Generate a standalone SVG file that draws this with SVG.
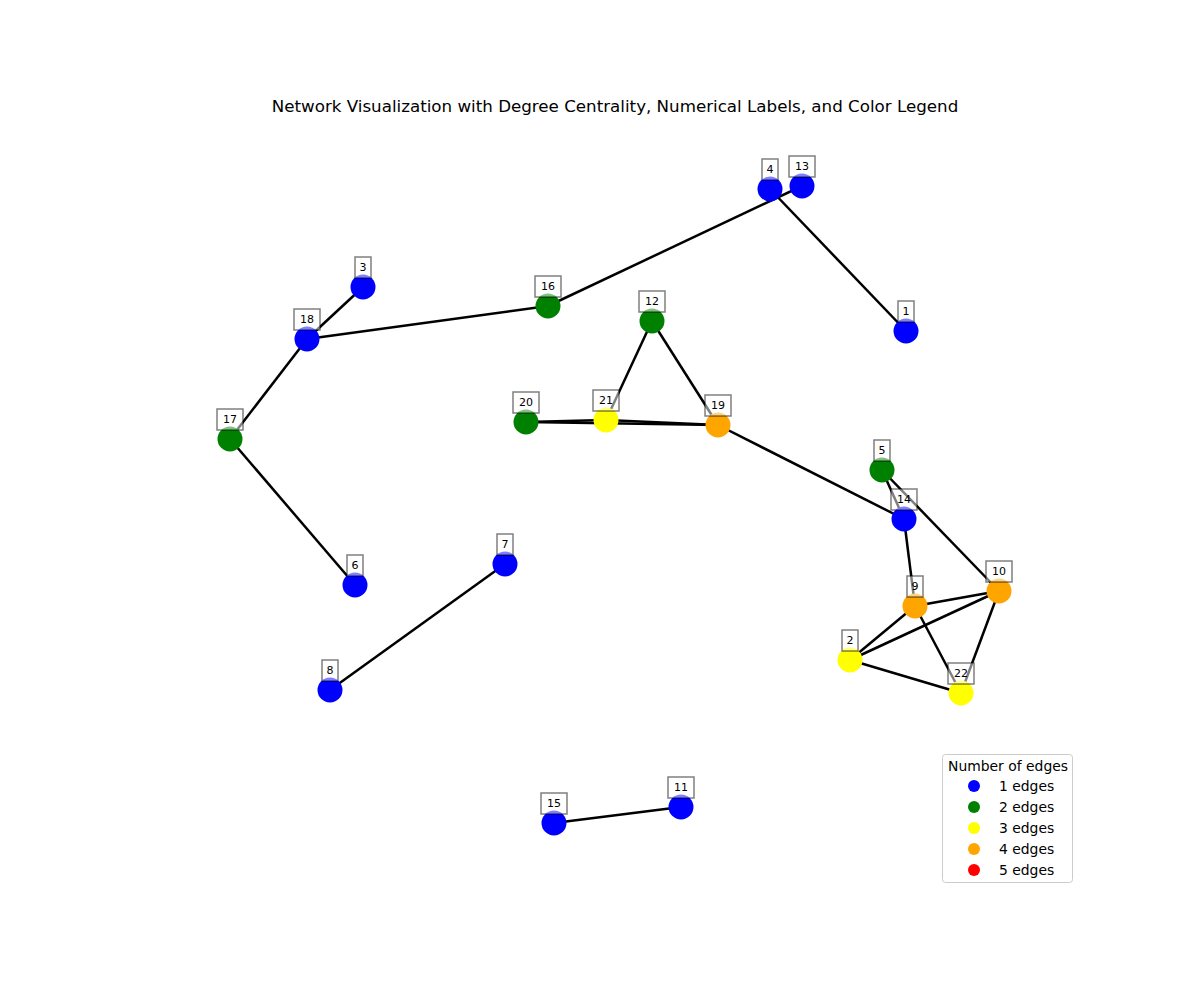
<svg xmlns="http://www.w3.org/2000/svg" width="1200" height="1000" viewBox="0 0 1200 1000">
  <style>
    .edge { stroke: #000; stroke-width: 2.5; fill: none; }
    .n1 { fill: #0000ff; }
    .n2 { fill: #008000; }
    .n3 { fill: #ffff00; }
    .n4 { fill: #ffa500; }
    .n5 { fill: #ff0000; }
    .lbox { fill: #fff; fill-opacity: 0.5; stroke: #000; stroke-opacity: 0.5; stroke-width: 1.5; }
    .ltxt { font-family: "DejaVu Sans", sans-serif; font-size: 11px; fill: #000; text-anchor: middle; dominant-baseline: central; }
    .title { font-family: "DejaVu Sans", sans-serif; font-size: 16.7px; fill: #000; text-anchor: middle; }
    .leg { font-family: "DejaVu Sans", sans-serif; font-size: 13.9px; fill: #000; }
  </style>
  <rect width="1200" height="1000" fill="#fff"/>
  <text class="title" x="615" y="112">Network Visualization with Degree Centrality, Numerical Labels, and Color Legend</text>

  <g id="edges">
    <line class="edge" x1="548" y1="306" x2="802" y2="186"/>
    <line class="edge" x1="770" y1="189" x2="906" y2="331"/>
    <line class="edge" x1="307" y1="339" x2="363" y2="287"/>
    <line class="edge" x1="307" y1="339" x2="548" y2="306"/>
    <line class="edge" x1="307" y1="339" x2="230" y2="439"/>
    <line class="edge" x1="230" y1="439" x2="355" y2="585"/>
    <line class="edge" x1="652" y1="321" x2="606" y2="420"/>
    <line class="edge" x1="652" y1="321" x2="718" y2="425"/>
    <line class="edge" x1="526" y1="422" x2="606" y2="420"/>
    <line class="edge" x1="526" y1="422" x2="718" y2="425"/>
    <line class="edge" x1="606" y1="420" x2="718" y2="425"/>
    <line class="edge" x1="718" y1="425" x2="904" y2="519"/>
    <line class="edge" x1="882" y1="470" x2="904" y2="519"/>
    <line class="edge" x1="882" y1="470" x2="999" y2="591"/>
    <line class="edge" x1="904" y1="519" x2="915" y2="606"/>
    <line class="edge" x1="915" y1="606" x2="999" y2="591"/>
    <line class="edge" x1="915" y1="606" x2="850" y2="660"/>
    <line class="edge" x1="915" y1="606" x2="961" y2="693"/>
    <line class="edge" x1="999" y1="591" x2="850" y2="660"/>
    <line class="edge" x1="999" y1="591" x2="961" y2="693"/>
    <line class="edge" x1="850" y1="660" x2="961" y2="693"/>
    <line class="edge" x1="505" y1="564" x2="330" y2="690"/>
    <line class="edge" x1="554" y1="823" x2="681" y2="807"/>
  </g>

  <g id="nodes">
    <g id="node-4"><circle class="n1" cx="770" cy="189" r="12.5"/></g>
    <g id="node-13"><circle class="n1" cx="802" cy="186" r="12.5"/></g>
    <g id="node-1"><circle class="n1" cx="906" cy="331" r="12.5"/></g>
    <g id="node-3"><circle class="n1" cx="363" cy="287" r="12.5"/></g>
    <g id="node-18"><circle class="n1" cx="307" cy="339" r="12.5"/></g>
    <g id="node-16"><circle class="n2" cx="548" cy="306" r="12.5"/></g>
    <g id="node-12"><circle class="n2" cx="652" cy="321" r="12.5"/></g>
    <g id="node-17"><circle class="n2" cx="230" cy="439" r="12.5"/></g>
    <g id="node-20"><circle class="n2" cx="526" cy="422" r="12.5"/></g>
    <g id="node-21"><circle class="n3" cx="606" cy="420" r="12.5"/></g>
    <g id="node-19"><circle class="n4" cx="718" cy="425" r="12.5"/></g>
    <g id="node-5"><circle class="n2" cx="882" cy="470" r="12.5"/></g>
    <g id="node-14"><circle class="n1" cx="904" cy="519" r="12.5"/></g>
    <g id="node-6"><circle class="n1" cx="355" cy="585" r="12.5"/></g>
    <g id="node-7"><circle class="n1" cx="505" cy="564" r="12.5"/></g>
    <g id="node-10"><circle class="n4" cx="999" cy="591" r="12.5"/></g>
    <g id="node-9"><circle class="n4" cx="915" cy="606" r="12.5"/></g>
    <g id="node-2"><circle class="n3" cx="850" cy="660" r="12.5"/></g>
    <g id="node-22"><circle class="n3" cx="961" cy="693" r="12.5"/></g>
    <g id="node-8"><circle class="n1" cx="330" cy="690" r="12.5"/></g>
    <g id="node-15"><circle class="n1" cx="554" cy="823" r="12.5"/></g>
    <g id="node-11"><circle class="n1" cx="681" cy="807" r="12.5"/></g>
  </g>

  <g id="labels">
    <g><rect class="lbox" x="762" y="159" width="16" height="21"/><text class="ltxt" x="770" y="169.5">4</text></g>
    <g><rect class="lbox" x="789" y="156" width="26" height="21"/><text class="ltxt" x="802" y="166.5">13</text></g>
    <g><rect class="lbox" x="898" y="301" width="16" height="21"/><text class="ltxt" x="906" y="311.5">1</text></g>
    <g><rect class="lbox" x="355" y="257" width="16" height="21"/><text class="ltxt" x="363" y="267.5">3</text></g>
    <g><rect class="lbox" x="294" y="309" width="26" height="21"/><text class="ltxt" x="307" y="319.5">18</text></g>
    <g><rect class="lbox" x="535" y="276" width="26" height="21"/><text class="ltxt" x="548" y="286.5">16</text></g>
    <g><rect class="lbox" x="639" y="291" width="26" height="21"/><text class="ltxt" x="652" y="301.5">12</text></g>
    <g><rect class="lbox" x="217" y="409" width="26" height="21"/><text class="ltxt" x="230" y="419.5">17</text></g>
    <g><rect class="lbox" x="513" y="392" width="26" height="21"/><text class="ltxt" x="526" y="402.5">20</text></g>
    <g><rect class="lbox" x="593" y="390" width="26" height="21"/><text class="ltxt" x="606" y="400.5">21</text></g>
    <g><rect class="lbox" x="705" y="395" width="26" height="21"/><text class="ltxt" x="718" y="405.5">19</text></g>
    <g><rect class="lbox" x="874" y="440" width="16" height="21"/><text class="ltxt" x="882" y="450.5">5</text></g>
    <g><rect class="lbox" x="891" y="489" width="26" height="21"/><text class="ltxt" x="904" y="499.5">14</text></g>
    <g><rect class="lbox" x="347" y="555" width="16" height="21"/><text class="ltxt" x="355" y="565.5">6</text></g>
    <g><rect class="lbox" x="497" y="534" width="16" height="21"/><text class="ltxt" x="505" y="544.5">7</text></g>
    <g><rect class="lbox" x="986" y="561" width="26" height="21"/><text class="ltxt" x="999" y="571.5">10</text></g>
    <g><rect class="lbox" x="907" y="576" width="16" height="21"/><text class="ltxt" x="915" y="586.5">9</text></g>
    <g><rect class="lbox" x="842" y="630" width="16" height="21"/><text class="ltxt" x="850" y="640.5">2</text></g>
    <g><rect class="lbox" x="948" y="663" width="26" height="21"/><text class="ltxt" x="961" y="673.5">22</text></g>
    <g><rect class="lbox" x="322" y="660" width="16" height="21"/><text class="ltxt" x="330" y="670.5">8</text></g>
    <g><rect class="lbox" x="541" y="793" width="26" height="21"/><text class="ltxt" x="554" y="803.5">15</text></g>
    <g><rect class="lbox" x="668" y="777" width="26" height="21"/><text class="ltxt" x="681" y="787.5">11</text></g>
  </g>

  <g id="legend">
    <rect x="942.5" y="754.5" width="130" height="128" rx="3" fill="#fff" fill-opacity="0.8" stroke="#ccc" stroke-width="1"/>
    <text class="leg" x="1008" y="771" text-anchor="middle">Number of edges</text>
    <circle class="n1" cx="974" cy="786" r="6"/>
    <text class="leg" x="999" y="791">1 edges</text>
    <circle class="n2" cx="974" cy="807" r="6"/>
    <text class="leg" x="999" y="812">2 edges</text>
    <circle class="n3" cx="974" cy="828" r="6"/>
    <text class="leg" x="999" y="833">3 edges</text>
    <circle class="n4" cx="974" cy="849" r="6"/>
    <text class="leg" x="999" y="854">4 edges</text>
    <circle class="n5" cx="974" cy="870" r="6"/>
    <text class="leg" x="999" y="875">5 edges</text>
  </g>
</svg>
